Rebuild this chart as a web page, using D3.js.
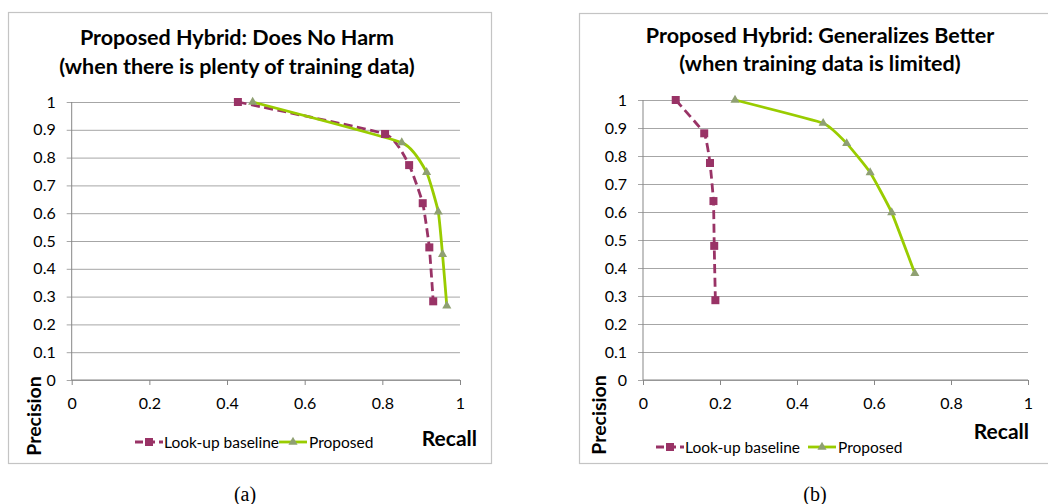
<!DOCTYPE html>
<html>
<head>
<meta charset="utf-8">
<script src="https://cdn.jsdelivr.net/npm/d3@7"></script>
<style>
  body { margin:0; background:#fff; }
  svg { display:block; }
  text { font-family: Lato, "Open Sans", sans-serif; fill:#000; }
</style>
</head>
<body>
<div id="chart"></div>
<script>
// tick values
const recallTicks    = [0, 0.2, 0.4, 0.6, 0.8, 1]
const precisionTicks = [0, 0.1, 0.2, 0.3, 0.4, 0.5, 0.6, 0.7, 0.8, 0.9, 1]

// (a) plenty of training data
const baseA_recall    = [0.428, 0.807, 0.869, 0.904, 0.921, 0.931]
const baseA_precision = [1.0,   0.885, 0.773, 0.636, 0.477, 0.283]
const propA_recall    = [0.466, 0.850, 0.914, 0.944, 0.955, 0.966]
const propA_precision = [1.0,   0.854, 0.747, 0.605, 0.452, 0.267]

// (b) limited training data
const baseB_recall    = [0.085, 0.159, 0.174, 0.183, 0.185, 0.188]
const baseB_precision = [1.0,   0.881, 0.775, 0.639, 0.479, 0.285]
const propB_recall    = [0.239, 0.468, 0.529, 0.590, 0.646, 0.706]
const propB_precision = [1.0,   0.917, 0.845, 0.741, 0.598, 0.381]

const seriesNames = ['Look-up baseline', 'Proposed']

const baseColor = '#993366',
      propColor = '#99cc00',
      triColor  = '#8fa072',
      gridColor = '#a6a6a6',
      axisColor = '#878787'

let width = 1048, height = 504
let svg = d3.select('#chart').append('svg').attr('width', width).attr('height', height)

function zip(xs, ys){ return xs.map((x,i) => ({ r:x, p:ys[i] })) }

function drawChart(cfg){
  let g = svg.append('g')

  g.append('rect')
    .attr('x', cfg.box[0] + 0.5).attr('y', cfg.box[1] + 0.5)
    .attr('width', cfg.box[2]).attr('height', cfg.box[3])
    .attr('fill', 'none').attr('stroke', '#c4c4c4').attr('stroke-width', 1.2)

  let x = d3.scaleLinear().domain([0,1]).range([cfg.left, cfg.right])
  let y = d3.scaleLinear().domain([0,1]).range([cfg.bottom, cfg.top])

  // titles
  cfg.title.forEach((t,i) => {
    g.append('text').attr('x', cfg.titleX).attr('y', cfg.titleY[i])
      .attr('text-anchor','middle').attr('dominant-baseline','central')
      .style('font-size','21.5px').style('font-weight','bold').text(t)
  })

  // axes
  let yAxis = d3.axisLeft(y).tickValues(precisionTicks).tickSize(-(cfg.right - cfg.left))
                .tickFormat(d3.format('~g')).tickPadding(16)
  let yG = g.append('g').attr('transform', `translate(${cfg.left},0)`).call(yAxis)
  yG.select('.domain').remove()
  yG.selectAll('.tick line').attr('stroke', gridColor).attr('x1', -5)
  yG.selectAll('.tick text').style('font-size','16px').style('font-family','Lato, sans-serif').attr('fill','#000')

  let xAxis = d3.axisBottom(x).tickValues(recallTicks).tickSize(5)
                .tickFormat(d3.format('~g')).tickPadding(13)
  let xG = g.append('g').attr('transform', `translate(0,${cfg.bottom})`).call(xAxis)
  xG.select('.domain').attr('stroke', axisColor).attr('d', `M${cfg.left},0H${cfg.right}`)
  xG.selectAll('.tick line').attr('stroke', axisColor)
  xG.selectAll('.tick text').style('font-size','16px').style('font-family','Lato, sans-serif').attr('fill','#000')

  g.append('line').attr('x1', cfg.left).attr('x2', cfg.left)
    .attr('y1', cfg.top).attr('y2', cfg.bottom).attr('stroke', axisColor)

  // series
  let line = d3.line().x(d => x(d.r)).y(d => y(d.p)).curve(d3.curveCardinal.tension(0.6))

  let base = zip(cfg.base[0], cfg.base[1])
  let prop = zip(cfg.prop[0], cfg.prop[1])

  g.append('path').attr('d', line(base)).attr('fill','none')
    .attr('stroke', baseColor).attr('stroke-width', 2.8).attr('stroke-dasharray','9,4.5')
  g.append('path').attr('d', line(prop)).attr('fill','none')
    .attr('stroke', propColor).attr('stroke-width', 2.8)

  g.selectAll('.sq').data(base).enter().append('rect')
    .attr('x', d => x(d.r) - 4).attr('y', d => y(d.p) - 4)
    .attr('width', 8).attr('height', 8).attr('fill', baseColor)

  let tri = d3.symbol().type(d3.symbolTriangle).size(36)
  g.selectAll('.tri').data(prop).enter().append('path')
    .attr('transform', d => `translate(${x(d.r)},${y(d.p)})`)
    .attr('d', tri).attr('fill', triColor)

  // axis titles
  g.append('text')
    .attr('transform', `translate(${cfg.precX},${cfg.precY}) rotate(-90)`)
    .attr('text-anchor','middle').attr('dominant-baseline','central')
    .style('font-size','19.5px').style('font-weight','bold').text('Precision')
  g.append('text').attr('x', cfg.recallX).attr('y', cfg.recallY)
    .attr('text-anchor','end').attr('dominant-baseline','central')
    .style('font-size','21px').style('font-weight','bold').text('Recall')

  // legend
  let lg = g.append('g').attr('transform', `translate(${cfg.legX},${cfg.legY})`)
  lg.append('line').attr('x1',0).attr('x2',28).attr('stroke',baseColor)
    .attr('stroke-width',2.8).attr('stroke-dasharray','8,4')
  lg.append('rect').attr('x',10).attr('y',-4).attr('width',8).attr('height',8).attr('fill',baseColor)
  lg.append('text').attr('x',29).attr('dominant-baseline','central')
    .style('font-size','15.5px').text(seriesNames[0])
  lg.append('line').attr('x1',cfg.legGap).attr('x2',cfg.legGap + 28)
    .attr('stroke',propColor).attr('stroke-width',2.8)
  lg.append('path').attr('transform',`translate(${cfg.legGap + 14},0)`).attr('d',tri).attr('fill',triColor)
  lg.append('text').attr('x',cfg.legGap + 30).attr('dominant-baseline','central')
    .style('font-size','15.5px').text(seriesNames[1])

  // caption
  g.append('text').attr('x', cfg.capX).attr('y', 494)
    .attr('text-anchor','middle').attr('dominant-baseline','central')
    .style('font-family','"Liberation Serif", serif').style('font-size','20px').text(cfg.caption)
}

drawChart({
  box:[8,12,483,451], left:71.7, right:460, top:102, bottom:380,
  title:['Proposed Hybrid: Does No Harm','(when there is plenty of training data)'],
  titleX:237, titleY:[37,66],
  base:[baseA_recall, baseA_precision], prop:[propA_recall, propA_precision],
  precX:33, precY:416, recallX:477, recallY:437,
  legX:135, legY:442, legGap:144, capX:245, caption:'(a)'
})

drawChart({
  box:[579,13,480,450], left:643, right:1028, top:100, bottom:380,
  title:['Proposed Hybrid: Generalizes Better','(when training data is limited)'],
  titleX:820, titleY:[35,63],
  base:[baseB_recall, baseB_precision], prop:[propB_recall, propB_precision],
  precX:598, precY:415, recallX:1029, recallY:430,
  legX:656, legY:447, legGap:152, capX:815, caption:'(b)'
})
</script>
</body>
</html>
